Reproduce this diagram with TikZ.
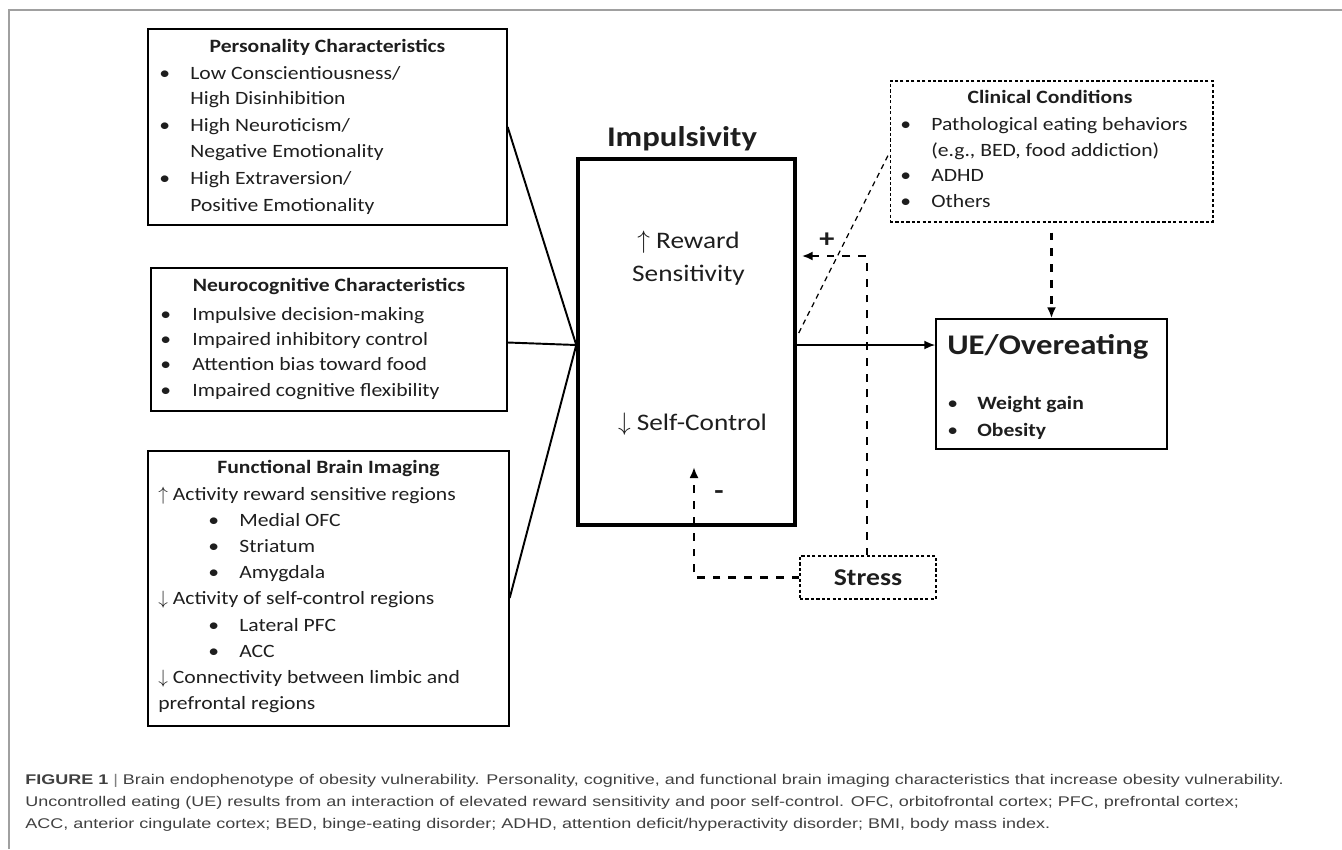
\documentclass[tikz,border=0pt]{standalone}
\usepackage{fontspec}
\setmainfont[FakeStretch=1.15]{Carlito}
\newfontfamily\capfont[FakeStretch=1.28]{Liberation Sans}
\usetikzlibrary{calc}
\usetikzlibrary{arrows.meta}
\definecolor{ink}{HTML}{1E1E1E}
\definecolor{capgray}{HTML}{404040}
\definecolor{framegray}{HTML}{A0A0A0}

\begin{document}
\begin{tikzpicture}[x=0.02cm, y=-0.02cm,
    box/.style={draw, line width=0.8pt, inner sep=0pt},
    dbox/.style={draw, line width=0.6pt, dash pattern=on 1.8pt off 1.3pt, inner sep=0pt},
    head/.style={anchor=base, inner sep=0pt, text=ink, font=\bfseries\fontsize{10.7}{13}\selectfont},
    txt/.style={anchor=base west, inner sep=0pt, text=ink, font=\fontsize{10.7}{13}\selectfont},
    big/.style={anchor=base, inner sep=0pt, text=ink, font=\fontsize{13.5}{16}\selectfont},
    link/.style={line width=1.1pt},
    sdash/.style={line width=1.6pt, dash pattern=on 4.5pt off 4.5pt},
    tip/.style={-{Latex[length=2.2mm, width=1.8mm]}},
    captxt/.style={anchor=base west, inner sep=0pt, text=capgray, font=\capfont\fontsize{8}{9}\selectfont},
  ]
  \useasboundingbox (0,0) rectangle (1342,849);
  \draw[framegray, line width=0.9pt] (9,849) -- (9,10) -- (1342,10);

  % boxes
  \node[box, minimum width=7.18cm, minimum height=3.92cm] (pers) at (327.5,127) {};
  \node[box, minimum width=7.12cm, minimum height=2.86cm] (neuro) at (329,339.5) {};
  \node[box, minimum width=7.22cm, minimum height=5.5cm] (func) at (328.5,588.5) {};
  \node[box, line width=2pt, minimum width=4.34cm, minimum height=7.32cm] (imp) at (686.5,342) {};
  \node[box, minimum width=4.62cm, minimum height=2.6cm] (ue) at (1051.5,384) {};
  \node[dbox, minimum width=6.46cm, minimum height=2.82cm] (clin) at (1051.5,151.5) {};
  \node[dbox, minimum width=2.72cm, minimum height=0.86cm, text=ink,
        font=\bfseries\fontsize{13.7}{16}\selectfont] (stress) at (868,577.5) {Stress};

  % personality
  \node[head] (pers-h) at (327.5,52) {Personality Characteristics};
  \foreach \y/\s [count=\i] in {79/{Low Conscientiousness/}, 104/{High Disinhibition},
      131/{High Neuroticism/}, 157/{Negative Emotionality}, 184/{High Extraversion/},
      211/{Positive Emotionality}}
    \node[txt] (pers-\i) at (190,\y) {\s};
  \foreach \y [count=\i] in {79,131,184}
    \node[txt] (pers-b\i) at (159,\y) {\textbullet};

  % neurocognitive
  \node[head] (neuro-h) at (329,291) {Neurocognitive Characteristics};
  \foreach \y/\s [count=\i] in {320/{Impulsive decision-making}, 345.3/{Impaired inhibitory control},
      370.7/{Attention bias toward food}, 396/{Impaired cognitive flexibility}} {
    \node[txt] (neuro-\i) at (192,\y) {\s};
    \node[txt] (neuro-b\i) at (160,\y) {\textbullet};
  }

  % brain imaging
  \node[head] (func-h) at (328.5,473) {Functional Brain Imaging};
  \foreach \x/\y/\s [count=\i] in {158/500/{$\uparrow$ Activity reward sensitive regions},
      239/526.2/{Medial OFC}, 239/552.4/{Striatum}, 239/578.6/{Amygdala},
      158/604.8/{$\downarrow$ Activity of self-control regions},
      239/631/{Lateral PFC}, 239/657.2/{ACC},
      158/683.4/{$\downarrow$ Connectivity between limbic and},
      158/709.6/{prefrontal regions}}
    \node[txt] (func-\i) at (\x,\y) {\s};
  \foreach \y [count=\i] in {526.2,552.4,578.6,631,657.2}
    \node[txt] (func-b\i) at (208,\y) {\textbullet};

  % clinical conditions
  \node[head] (clin-h) at (1050,103) {Clinical Conditions};
  \foreach \y/\s [count=\i] in {130/{Pathological eating behaviors},
      156/{(e.g., BED, food addiction)}, 181/{ADHD}, 207/{Others}}
    \node[txt] (clin-\i) at (931,\y) {\s};
  \foreach \y [count=\i] in {130,181,207}
    \node[txt] (clin-b\i) at (900,\y) {\textbullet};

  % impulsivity
  \node[big, font=\bfseries\fontsize{16.2}{19}\selectfont] (imp-h) at (682,146) {Impulsivity};
  \node[big] (rew-1) at (688.5,248) {$\uparrow$ Reward};
  \node[big] (rew-2) at (688.5,281) {Sensitivity};
  \node[big] (ctrl) at (692.5,430) {$\downarrow$ Self-Control};

  % outcome
  \node[txt, font=\bfseries\fontsize{16.2}{19}\selectfont] (ue-h) at (947,354) {UE/Overeating};
  \node[txt, font=\bfseries\fontsize{10.7}{13}\selectfont] (ue-1) at (977,409) {Weight gain};
  \node[txt, font=\bfseries\fontsize{10.7}{13}\selectfont] (ue-2) at (977,436) {Obesity};
  \node[txt] (ue-b1) at (947,409) {\textbullet};
  \node[txt] (ue-b2) at (947,436) {\textbullet};

  % links
  \coordinate (hub) at ($(imp.west)+(0,3)$);
  \draw[link] (pers.east) -- (hub);
  \draw[link] ($(neuro.east)+(0,3)$) -- (hub);
  \draw[link] ($(func.east)+(0,9.5)$) -- (hub);
  \draw[link, tip] (hub -| imp.east) -- (hub -| ue.west);

  \draw[line width=0.7pt, dash pattern=on 3pt off 2.5pt] ($(imp.east)+(2,-9)$) -- ($(clin.west)+(0,1)$);
  \draw[sdash, tip, shorten <=0.2cm] (clin.south) -- (clin.south |- ue.north);

  % stress
  \coordinate (plus) at (867,256);
  \coordinate (minus) at (694,467);
  \draw[sdash, tip] (plus |- stress.north) -- (plus) -- ($(imp.east |- plus)+(5,0)$);
  \draw[sdash, tip] (stress.west) -- (stress.west -| minus) -- (minus);
  \node[text=ink, font=\bfseries\fontsize{15}{18}\selectfont] (plus-l) at (827,240) {+};
  \node[text=ink, font=\bfseries\fontsize{15}{18}\selectfont] (minus-l) at (719,495) {-};

  % caption
  \node[captxt] (cap-1) at (25,784) {\textbf{FIGURE 1} {\color{gray}|} Brain endophenotype of obesity vulnerability. Personality, cognitive, and functional brain imaging characteristics that increase obesity vulnerability.};
  \node[captxt] (cap-2) at (25,806) {Uncontrolled eating (UE) results from an interaction of elevated reward sensitivity and poor self-control. OFC, orbitofrontal cortex; PFC, prefrontal cortex;};
  \node[captxt] (cap-3) at (25,828) {ACC, anterior cingulate cortex; BED, binge-eating disorder; ADHD, attention deficit/hyperactivity disorder; BMI, body mass index.};
\end{tikzpicture}
\end{document}
